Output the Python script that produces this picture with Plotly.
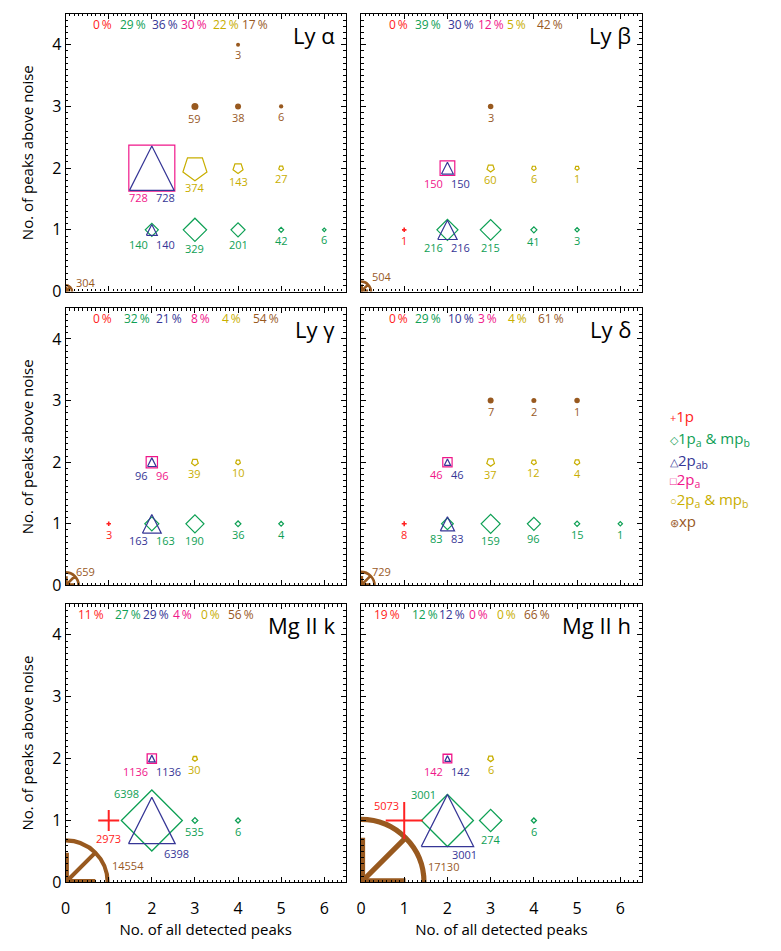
import plotly.graph_objects as go

# ---------------- data ----------------
PANELS = ["Ly α", "Ly β", "Ly γ", "Ly δ", "Mg II k", "Mg II h"]
CATEGORIES = ["1p", "1pa&mpb", "2pab", "2pa", "2pa&mpb", "xp"]

LYA_CAT = ["xp", "xp", "xp", "xp", "xp", "2pa", "2pab", "1pa&mpb", "2pab", "2pa&mpb", "2pa&mpb", "2pa&mpb",
           "1pa&mpb", "1pa&mpb", "1pa&mpb", "1pa&mpb"]
LYA_X = [0, 3, 4, 5, 4, 2, 2, 2, 2, 3, 4, 5, 3, 4, 5, 6]
LYA_Y = [0, 3, 3, 3, 4, 2, 2, 1, 1, 2, 2, 2, 1, 1, 1, 1]
LYA_N = [304, 59, 38, 6, 3, 728, 728, 140, 140, 374, 143, 27, 329, 201, 42, 6]
LYA_PCT = [0, 29, 36, 30, 22, 17]

LYB_CAT = ["xp", "xp", "2pa", "2pab", "1pa&mpb", "2pab", "2pa&mpb", "2pa&mpb", "2pa&mpb", "1p",
           "1pa&mpb", "1pa&mpb", "1pa&mpb"]
LYB_X = [0, 3, 2, 2, 2, 2, 3, 4, 5, 1, 3, 4, 5]
LYB_Y = [0, 3, 2, 2, 1, 1, 2, 2, 2, 1, 1, 1, 1]
LYB_N = [504, 3, 150, 150, 216, 216, 60, 6, 1, 1, 215, 41, 3]
LYB_PCT = [0, 39, 30, 12, 5, 42]

LYG_CAT = ["xp", "2pab", "2pa", "2pab", "1pa&mpb", "1p", "2pa&mpb", "2pa&mpb", "1pa&mpb", "1pa&mpb", "1pa&mpb"]
LYG_X = [0, 2, 2, 2, 2, 1, 3, 4, 3, 4, 5]
LYG_Y = [0, 2, 2, 1, 1, 1, 2, 2, 1, 1, 1]
LYG_N = [659, 96, 96, 163, 163, 3, 39, 10, 190, 36, 4]
LYG_PCT = [0, 32, 21, 8, 4, 54]

LYD_CAT = ["xp", "xp", "xp", "xp", "2pa", "2pab", "1pa&mpb", "2pab", "1p", "2pa&mpb", "2pa&mpb", "2pa&mpb",
           "1pa&mpb", "1pa&mpb", "1pa&mpb", "1pa&mpb"]
LYD_X = [0, 3, 4, 5, 2, 2, 2, 2, 1, 3, 4, 5, 3, 4, 5, 6]
LYD_Y = [0, 3, 3, 3, 2, 2, 1, 1, 1, 2, 2, 2, 1, 1, 1, 1]
LYD_N = [729, 7, 2, 1, 46, 46, 83, 83, 8, 37, 12, 4, 159, 96, 15, 1]
LYD_PCT = [0, 29, 10, 3, 4, 61]

MGK_CAT = ["xp", "1p", "2pa", "2pab", "1pa&mpb", "2pab", "2pa&mpb", "1pa&mpb", "1pa&mpb"]
MGK_X = [0, 1, 2, 2, 2, 2, 3, 3, 4]
MGK_Y = [0, 1, 2, 2, 1, 1, 2, 1, 1]
MGK_N = [14554, 2973, 1136, 1136, 6398, 6398, 30, 535, 6]
MGK_PCT = [11, 27, 29, 4, 0, 56]

MGH_CAT = ["xp", "1p", "2pa", "2pab", "1pa&mpb", "2pab", "2pa&mpb", "1pa&mpb", "1pa&mpb"]
MGH_X = [0, 1, 2, 2, 2, 2, 3, 3, 4]
MGH_Y = [0, 1, 2, 2, 1, 1, 2, 1, 1]
MGH_N = [17130, 5073, 142, 142, 3001, 3001, 6, 274, 6]
MGH_PCT = [19, 12, 12, 0, 0, 66]

# ---------------- styles (marker widths in px, layout) ----------------
LYA_W = [13, 7, 6, 4.3, 4, 46, 45, 13, 11, 24, 10, 4.7, 23.3, 14, 5, 3.5]
LYB_W = [20, 5.5, 14.7, 12, 21, 19.5, 7.3, 4.5, 4.2, 4.5, 20.7, 6, 4.3]
LYG_W = [26, 8.7, 11.3, 19, 14, 4.5, 6.7, 4.7, 18, 5.7, 4.7]
LYD_W = [27, 6, 5, 5.5, 9.3, 6.5, 11.7, 14.3, 5, 7.7, 5, 5.3, 19, 13, 5.3, 4.3]
MGK_W = [84, 21, 9.3, 6.7, 61, 47, 5, 5.7, 5]
MGH_W = [126, 37, 8.7, 5.7, 52, 52.7, 5.7, 22.3, 5]

PCT_XPOS = {
    "Ly α": [0.86, 1.56, 2.30, 2.99, 3.71, 4.39],
    "Ly β": [0.86, 1.56, 2.31, 3.01, 3.60, 4.38],
    "Ly γ": [0.86, 1.65, 2.41, 3.12, 3.86, 4.64],
    "Ly δ": [0.86, 1.56, 2.31, 2.92, 3.62, 4.39],
    "Mg II k": [0.60, 1.45, 2.10, 2.71, 3.37, 4.07],
    "Mg II h": [0.61, 1.48, 2.10, 2.72, 3.36, 4.07],
}

LABEL_OVERRIDES = {
    "Ly α": {("xp", 0, 0): ("left", 8, 9)},
    "Ly β": {("xp", 0, 0): ("left", 9, 15)},
    "Ly γ": {("xp", 0, 0): ("left", 8, 14)},
    "Ly δ": {("xp", 0, 0): ("left", 9, 14)},
    "Mg II k": {("xp", 0, 0): ("left", 44, 17), ("1pa&mpb", 2, 1): ("right", -11, 27),
                ("2pab", 2, 1): ("left", 10, -33)},
    "Mg II h": {("xp", 0, 0): ("left", 65, 15.5), ("1p", 1, 1): ("right", -3.5, 15),
                ("1pa&mpb", 2, 1): ("right", -9, 26), ("2pab", 2, 1): ("left", 3, -34)},
}

COLORS = {"1p": "#ff2222", "1pa&mpb": "#0fa055", "2pab": "#363696", "2pa": "#f0168a",
          "2pa&mpb": "#c8ae00", "xp": "#98591f"}
SYMBOL = {"1p": "cross-thin-open", "1pa&mpb": "diamond-open", "2pa": "square-open",
          "2pa&mpb": "pentagon-open", "xp": "circle"}
SIZE_FACTOR = {"1p": 1 / 1.4, "1pa&mpb": 1 / 1.3, "2pa": 1.0, "2pa&mpb": 1 / 0.95, "xp": 1.0}

FONT = "Open Sans"
FIG_W, FIG_H = 781, 951
COL_X = [(61, 343), (358.3, 641)]
ROW_Y = [(14, 295), (311.7, 592.3), (611, 892.7)]
X_RANGE = [0, 6.5]
Y_RANGE = [0, 4.5]

PANEL_DATA = {
    "Ly α": (LYA_CAT, LYA_X, LYA_Y, LYA_N, LYA_PCT, LYA_W),
    "Ly β": (LYB_CAT, LYB_X, LYB_Y, LYB_N, LYB_PCT, LYB_W),
    "Ly γ": (LYG_CAT, LYG_X, LYG_Y, LYG_N, LYG_PCT, LYG_W),
    "Ly δ": (LYD_CAT, LYD_X, LYD_Y, LYD_N, LYD_PCT, LYD_W),
    "Mg II k": (MGK_CAT, MGK_X, MGK_Y, MGK_N, MGK_PCT, MGK_W),
    "Mg II h": (MGH_CAT, MGH_X, MGH_Y, MGH_N, MGH_PCT, MGH_W),
}

fig = go.Figure()
annotations = []
layout_axes = {}

for i, name in enumerate(PANELS):
    r, c = divmod(i, 2)
    k = i + 1
    sfx = "" if k == 1 else str(k)
    xref, yref = "x" + sfx, "y" + sfx
    x0p, x1p = COL_X[c]
    ytp, ybp = ROW_Y[r]
    pxx = (x1p - x0p) / (X_RANGE[1] - X_RANGE[0])
    pxy = (ybp - ytp) / (Y_RANGE[1] - Y_RANGE[0])

    common = dict(showgrid=False, zeroline=False, showline=True, linecolor="black", linewidth=1.2,
                  mirror="allticks", ticks="inside", ticklen=5, tickwidth=1, tickcolor="black",
                  tick0=0, dtick=1,
                  minor=dict(ticks="inside", ticklen=2.5, tickwidth=0.8, tickcolor="black", dtick=0.1),
                  tickfont=dict(size=16, color="black", family=FONT), fixedrange=True)
    xa = dict(common, domain=[x0p / FIG_W, x1p / FIG_W], range=X_RANGE, anchor=yref,
              showticklabels=(r == 2), ticklabelstandoff=11)
    ya = dict(common, domain=[1 - ybp / FIG_H, 1 - ytp / FIG_H], range=Y_RANGE, anchor=xref,
              showticklabels=(c == 0))
    if r == 2:
        xa["title"] = dict(text="No. of all detected peaks", font=dict(size=15, color="black", family=FONT),
                           standoff=0)
    if c == 0:
        ya["title"] = dict(text="No. of peaks above noise", font=dict(size=15, color="black", family=FONT),
                           standoff=14)
    layout_axes["xaxis" + sfx] = xa
    layout_axes["yaxis" + sfx] = ya

    cats, xs, ys, ns, pcts, ws = PANEL_DATA[name]
    big = name.startswith("Mg")

    # origin xp symbols (circle with X, clipped to the axes)
    ox = [x for ct, x, y in zip(cats, xs, ys) if ct == "xp" and x == 0 and y == 0]
    oy = [y for ct, x, y in zip(cats, xs, ys) if ct == "xp" and x == 0 and y == 0]
    ow = [w for ct, x, y, w in zip(cats, xs, ys, ws) if ct == "xp" and x == 0 and y == 0]
    if ox:
        lw = 2 + ow[0] / 40
        fig.add_trace(go.Scatter(x=ox, y=oy, mode="markers", xaxis=xref, yaxis=yref, showlegend=False,
                                 hoverinfo="skip",
                                 marker=dict(symbol="circle-x-open", size=ow, color=COLORS["xp"], opacity=1,
                                             line=dict(color=COLORS["xp"], width=lw))))
        fig.add_trace(go.Scatter(x=ox, y=oy, mode="markers", xaxis=xref, yaxis=yref, showlegend=False,
                                 hoverinfo="skip",
                                 marker=dict(symbol="cross-thin-open", size=[w * 0.505 for w in ow],
                                             color=COLORS["xp"], opacity=1,
                                             line=dict(color=COLORS["xp"], width=lw * 1.6))))

    # regular marker categories
    for cat in ["xp", "1pa&mpb", "2pa", "2pa&mpb", "1p"]:
        sel = [j for j, ct in enumerate(cats) if ct == cat and not (ct == "xp" and xs[j] == 0 and ys[j] == 0)]
        if not sel:
            continue
        sizes = [ws[j] * SIZE_FACTOR[cat] for j in sel]
        if cat == "xp":
            mk = dict(symbol="circle", size=sizes, color=COLORS[cat], opacity=1, line=dict(width=0))
        else:
            lw = 2.0 if cat == "1p" else (1.3 if big else 1.2)
            if cat == "1p" and not big:
                lw = 1.6
            mk = dict(symbol=SYMBOL[cat], size=sizes, color=COLORS[cat], opacity=1,
                      line=dict(color=COLORS[cat], width=lw))
            if cat == "2pa&mpb":
                mk["angle"] = 180
        fig.add_trace(go.Scatter(x=[xs[j] for j in sel], y=[ys[j] for j in sel], mode="markers",
                                 xaxis=xref, yaxis=yref, showlegend=False, hoverinfo="skip", marker=mk))

    # triangles (2pab) drawn as isosceles outlines around each data point
    tx, ty = [], []
    for j, ct in enumerate(cats):
        if ct != "2pab":
            continue
        dx = ws[j] / 2 / pxx
        dy = ws[j] / 2 / pxy
        tx += [xs[j] - dx, xs[j] + dx, xs[j], xs[j] - dx, None]
        ty += [ys[j] - dy, ys[j] - dy, ys[j] + dy, ys[j] - dy, None]
    if tx:
        fig.add_trace(go.Scatter(x=tx, y=ty, mode="lines", xaxis=xref, yaxis=yref, showlegend=False,
                                 hoverinfo="skip",
                                 line=dict(color=COLORS["2pab"], width=1.3 if big else 1.2)))

    # count labels
    groups = {}
    for j in range(len(cats)):
        groups.setdefault((xs[j], ys[j]), []).append(j)
    ovr = LABEL_OVERRIDES.get(name, {})
    for j in range(len(cats)):
        key = (cats[j], xs[j], ys[j])
        grp = groups[(xs[j], ys[j])]
        half = max(ws[g] for g in grp) / 2
        if key in ovr:
            xan, xsh, ysh = ovr[key]
        elif len(grp) > 1:
            pos = grp.index(j)
            xan, xsh = ("right", -2) if pos == 0 else ("left", 2)
            ysh = -(8.5 + 0.9 * half)
        else:
            xan, xsh, ysh = "center", 0, -(8.5 + 0.9 * half)
        annotations.append(dict(x=xs[j], y=ys[j], xref=xref, yref=yref, text=str(ns[j]), showarrow=False,
                                xanchor=xan, yanchor="middle", xshift=xsh, yshift=ysh,
                                font=dict(size=11, color=COLORS[cats[j]], family=FONT)))

    # percentage row
    for cat, p, px in zip(CATEGORIES, pcts, PCT_XPOS[name]):
        annotations.append(dict(x=px, y=4.33, xref=xref, yref=yref, text=f"{p}\u2009%", showarrow=False,
                                xanchor="center", yanchor="middle",
                                font=dict(size=12, color=COLORS[cat], family=FONT)))

    # panel title
    annotations.append(dict(x=1, y=1, xref=xref + " domain", yref=yref + " domain", text=name,
                            showarrow=False, xanchor="right", yanchor="top", xshift=-9, yshift=-4,
                            font=dict(size=22, color="black", family=FONT)))

# legend block
LEGEND_ITEMS = [
    ("1p", "+", "1p"),
    ("1pa&mpb", "◇", "1p<sub>a</sub> & mp<sub>b</sub>"),
    ("2pab", "△", "2p<sub>ab</sub>"),
    ("2pa", "□", "2p<sub>a</sub>"),
    ("2pa&mpb", "○", "2p<sub>a</sub> & mp<sub>b</sub>"),
    ("xp", "⊛", "xp"),
]
LEGEND_Y = [421, 444, 466, 486, 506, 527]
for (cat, sym, txt), yy in zip(LEGEND_ITEMS, LEGEND_Y):
    annotations.append(dict(x=667 / FIG_W, y=1 - yy / FIG_H, xref="paper", yref="paper",
                            text=f"<span style='font-size:11px'>{sym}</span>{txt}", showarrow=False,
                            xanchor="left", yanchor="middle",
                            font=dict(size=15, color=COLORS[cat], family=FONT)))

fig.update_layout(width=FIG_W, height=FIG_H, margin=dict(l=0, r=0, t=0, b=0),
                  paper_bgcolor="white", plot_bgcolor="white", showlegend=False,
                  font=dict(family=FONT, color="black"), annotations=annotations, **layout_axes)

fig.write_html("out.html")
